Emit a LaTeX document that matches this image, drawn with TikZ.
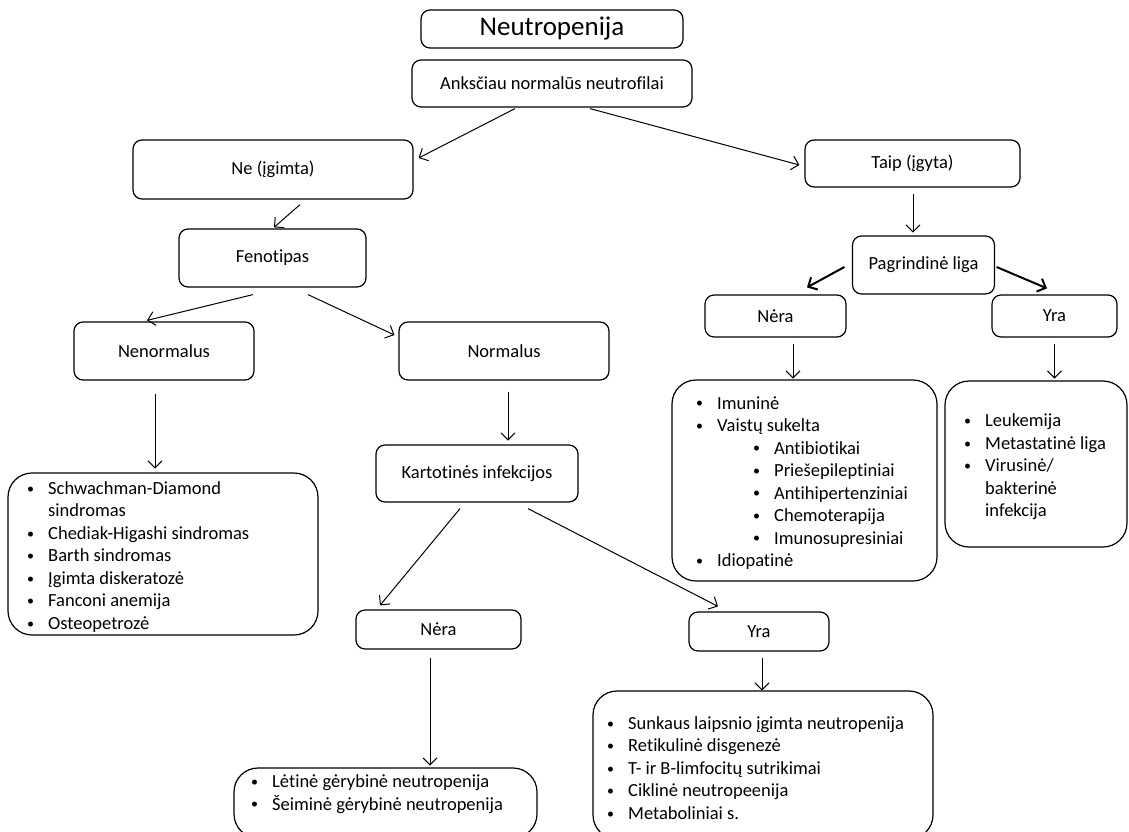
\documentclass[tikz,border=0pt]{standalone}
\usepackage{fontspec}
\setmainfont{Carlito}[Ligatures=NoCommon]
\usetikzlibrary{arrows.meta,calc}
\newcommand\bl{\makebox[21pt][l]{\raisebox{1.2pt}{\fontsize{14}{14}\selectfont\textbullet}}}
\newcommand\ind{\hspace*{21pt}}
\begin{document}
\begin{tikzpicture}[x=1pt,y=-1pt,
  box/.style={draw,line width=1.2pt,fill=white,rounded corners=9pt,
    align=center,inner sep=0pt,font=\fontsize{18.5}{22}\selectfont},
  listbox/.style={draw,line width=1.2pt,rounded corners=24pt,inner sep=0pt},
  listtext/.style={anchor=west,align=left,inner sep=0pt,
    font=\fontsize{18.5}{22.5}\selectfont},
  arr/.style={line width=1pt,-{Straight Barb[length=7pt,width=14pt]}},
  thickarr/.style={line width=2pt,-{Straight Barb[length=7pt,width=14pt]}}]
\useasboundingbox (0,0) rectangle (1129,832);

% --- boxes
\node[box,minimum width=262pt,minimum height=38pt,font=\fontsize{27}{30}\selectfont] (title) at (552,29) {Neutropenija};
\node[box,minimum width=280pt,minimum height=47pt] (prev) at (552,83.5) {Anksčiau normalūs neutrofilai};
\node[box,minimum width=280pt,minimum height=59pt] (ne) at (273,169.5) {Ne (įgimta)};
\node[box,minimum width=215pt,minimum height=47pt] (taip) at (912.5,163.5) {Taip (įgyta)};
\node[box,minimum width=187pt,minimum height=58pt] (fen) at (272.5,258) {Fenotipas};
\node[box,minimum width=142pt,minimum height=58pt] (pag) at (923.5,265) {Pagrindinė liga};
\node[box,minimum width=141pt,minimum height=42pt] (nera1) at (775.5,316) {Nėra};
\node[box,minimum width=125pt,minimum height=42pt] (yra1) at (1054.5,316) {Yra};
\node[box,minimum width=180pt,minimum height=58pt] (nenorm) at (164,351) {Nenormalus};
\node[box,minimum width=210pt,minimum height=58pt] (norm) at (504,351) {Normalus};
\node[box,minimum width=202pt,minimum height=57pt] (kart) at (477,473.5) {Kartotinės infekcijos};
\node[box,minimum width=165pt,minimum height=39pt] (nera2) at (438.5,629.5) {Nėra};
\node[box,minimum width=140pt,minimum height=39pt] (yra2) at (759,631.5) {Yra};

% --- list boxes
\node[listbox,minimum width=310pt,minimum height=162pt] (l1) at (163,554) {};
\node[listbox,minimum width=265pt,minimum height=201pt] (l2) at (804.5,480.5) {};
\node[listbox,minimum width=182pt,minimum height=166pt] (l3) at (1036,464) {};
\node[listbox,minimum width=303pt,minimum height=70pt] (l4) at (385.5,803) {};
\node[listbox,minimum width=340pt,minimum height=148pt] (l5) at (763,765) {};

% --- list contents
\node[listtext] (t1) at (27,557) {\bl Schwachman-Diamond\\ \ind sindromas\\ \bl Chediak-Higashi sindromas\\ \bl Barth sindromas\\ \bl Įgimta diskeratozė\\ \bl Fanconi anemija\\ \bl Osteopetrozė};
\node[listtext] (t2) at (696,483) {\bl Imuninė\\ \bl Vaistų sukelta\\ \hspace*{57pt}\bl Antibiotikai\\ \hspace*{57pt}\bl Priešepileptiniai\\ \hspace*{57pt}\bl Antihipertenziniai\\ \hspace*{57pt}\bl Chemoterapija\\ \hspace*{57pt}\bl Imunosupresiniai\\ \bl Idiopatinė};
\node[listtext] (t3) at (964,467) {\bl Leukemija\\ \bl Metastatinė liga\\ \bl Virusinė/\\ \ind bakterinė\\ \ind infekcija};
\node[listtext] (t4) at (251,794) {\bl Lėtinė gėrybinė neutropenija\\ \bl Šeiminė gėrybinė neutropenija};
\node[listtext] (t5) at (607,768) {\bl Sunkaus laipsnio įgimta neutropenija\\ \bl Retikulinė disgenezė\\ \bl T- ir B-limfocitų sutrikimai\\ \bl Ciklinė neutropeenija\\ \bl Metaboliniai s.};

% --- connectors (offsets are in picture units, y pointing down)
\draw[arr] ($(prev.south)+(-37,1)$) -- ($(ne.east)+(5,-11.5)$);
\draw[arr] ($(prev.south)+(38,1)$) -- ($(taip.west)+(-5,1.5)$);
\draw[arr] ($(ne.south)+(27,5)$) -- ($(fen.north)+(1.5,-1)$);
\draw[arr] ($(fen.south)+(-19.5,7)$) -- ($(nenorm.north)+(-17,-1)$);
\draw[arr] ($(fen.south)+(35.5,7)$) -- ($(norm.west)+(-4,-16)$);
\draw[arr] ($(taip.south)+(0.5,6)$) -- ($(taip.south)+(0.5,45)$);
\draw[thickarr] ($(pag.west)+(-7.5,2)$) -- ($(nera1.north)+(31.5,-7)$);
\draw[thickarr] ($(pag.east)+(1.5,2)$) -- ($(yra1.north)+(-7.5,-6)$);
\draw[arr] ($(nera1.south)+(17.5,6)$) -- ($(nera1.south)+(17.5,41)$);
\draw[arr] ($(yra1.south)+(0,6)$) -- ($(yra1.south)+(0,41)$);
\draw[arr] ($(nenorm.south)+(-9,13)$) -- ($(nenorm.south)+(-9,88)$);
\draw[arr] ($(norm.south)+(4,11)$) -- ($(norm.south)+(4,60)$);
\draw[arr] ($(kart.south)+(-17,6)$) -- ($(nera2.north)+(-58.5,-4)$);
\draw[arr] ($(kart.south)+(51,6)$) -- ($(yra2.north)+(-41,-5)$);
\draw[arr] ($(nera2.south)+(-8.5,8)$) -- ($(nera2.south)+(-8.5,116)$);
\draw[arr] ($(yra2.south)+(3,6)$) -- ($(yra2.south)+(3,39)$);
\end{tikzpicture}
\end{document}
